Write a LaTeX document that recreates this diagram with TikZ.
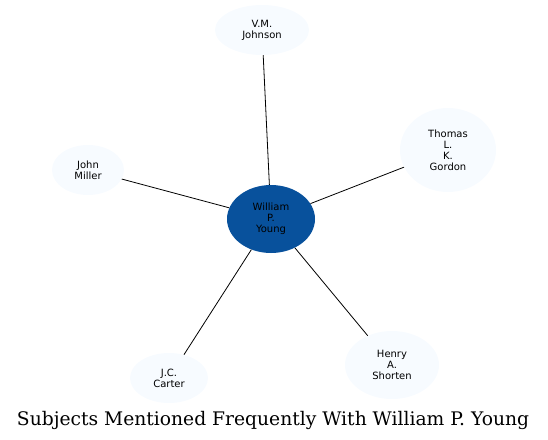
\documentclass[tikz,border=0pt]{standalone}
\usepackage{fontspec}
\setmainfont{DejaVu Sans}
\newfontfamily\titlefont{DejaVu Serif}
\usetikzlibrary{shapes.geometric}
\definecolor{hubblue}{HTML}{08519C}
\definecolor{leafblue}{HTML}{F7FBFF}

\begin{document}
\begin{tikzpicture}[x=1pt, y=-1pt,
    leaf/.style={ellipse, fill=leafblue, inner sep=0pt, align=center, font=\fontsize{10}{11}\selectfont},
    hub/.style={ellipse, fill=hubblue, inner sep=0pt, align=center, font=\fontsize{10}{11}\selectfont},
    link/.style={draw=black, line width=0.8pt}
]
  \useasboundingbox (0,0) rectangle (548,439);
  \node[hub, minimum width=88pt, minimum height=68pt] (young) at (271,219) {William\\P.\\Young};
  \node[leaf, minimum width=94pt, minimum height=50pt] (johnson) at (262,30) {V.M.\\Johnson};
  \node[leaf, minimum width=96pt, minimum height=84pt] (gordon) at (448,150) {Thomas\\L.\\K.\\Gordon};
  \node[leaf, minimum width=72pt, minimum height=50pt] (miller) at (88,170) {John\\Miller};
  \node[leaf, minimum width=78pt, minimum height=50pt] (carter) at (169,378) {J.C.\\Carter};
  \node[leaf, minimum width=94pt, minimum height=68pt] (shorten) at (392,365) {Henry\\A.\\Shorten};
  \draw[link] (young) -- (johnson);
  \draw[link] (young) -- (gordon);
  \draw[link] (young) -- (miller);
  \draw[link] (young) -- (carter);
  \draw[link] (young) -- (shorten);
  \node[font=\titlefont\fontsize{18.7}{22}\selectfont] (title) at (273,420) {Subjects Mentioned Frequently With William P. Young};
\end{tikzpicture}
\end{document}
